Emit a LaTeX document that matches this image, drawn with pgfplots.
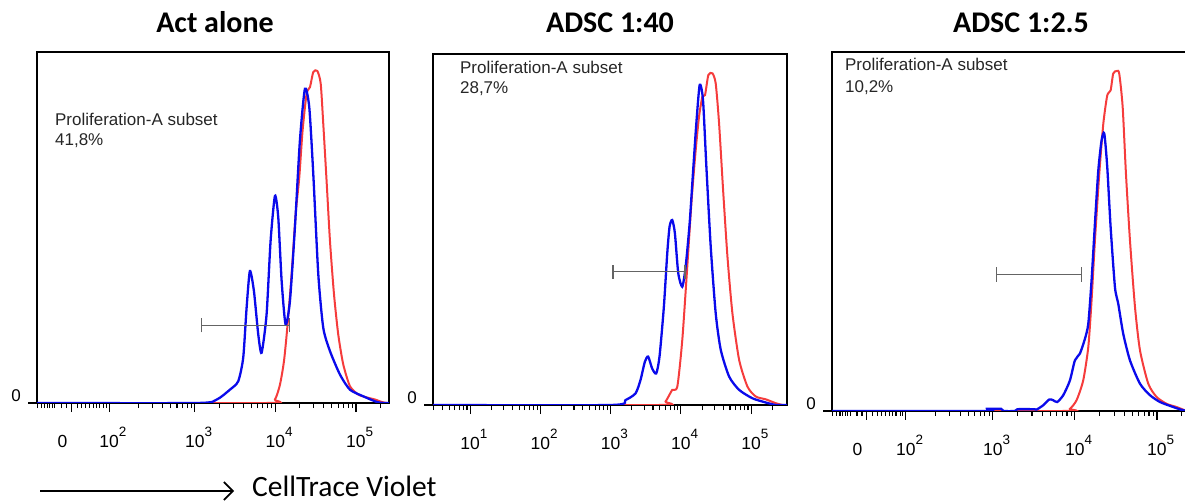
\documentclass[border=0pt]{standalone}
\usepackage{pgfplots}
\pgfplotsset{compat=1.18}
\usepackage{fontspec}
\setmainfont{Liberation Sans}
\newfontfamily\calibri{Carlito}
\usetikzlibrary{arrows.meta}
\definecolor{fblue}{RGB}{10,10,235}
\definecolor{fred}{RGB}{245,60,60}
\definecolor{gatec}{RGB}{100,100,100}
\newcommand{\ex}[1]{\raisebox{10.5pt}{\fontsize{13.5}{13.5}\selectfont #1}}
\newcommand{\dec}[1]{\hphantom{\ex{#1}}10\ex{#1}}
\tikzset{ptext/.style={font=\fontsize{17}{20}\selectfont, anchor=west, text=black!85, inner sep=0pt}}
\pgfplotsset{flow/.style={
  scale only axis, anchor=south west,
  ymin=0, ymax=100,
  axis line style={line width=1.2pt},
  tick style={black, line width=1.1pt},
  tick align=outside,
  xtick pos=bottom, ytick pos=left,
  major tick length=9pt, minor tick length=5pt,
  ytick={0}, yticklabels={0},
  xticklabel style={font=\fontsize{17.5}{17.5}\selectfont, anchor=base, inner sep=0pt, yshift=-35pt},
  yticklabel style={font=\fontsize{17}{17}\selectfont, anchor=base east, inner sep=0pt, xshift=-7pt, yshift=1pt},
  clip=true,
},
bl/.style={fblue, line width=2.3pt, smooth, tension=0.4},
rl/.style={fred, line width=2pt, smooth, tension=0.4},
gl/.style={gatec, line width=1.4pt},
}
\begin{document}
\begin{tikzpicture}[x=1pt,y=1pt]
\path[use as bounding box] (0,0) rectangle (1185,503);
% ---------- panel 1
\begin{axis}[flow, at={(37pt,100pt)}, width=352pt, height=351pt,
  xmin=1.04, xmax=5.41,
  xtick={1.468,1.935,3,4,5},
  xticklabels={0\kern18pt,\dec{2},\dec{3},\dec{4},\dec{5}},
  minor xtick={1.046,1.096,1.137,1.165,1.199,1.232,1.261,1.344,1.406,1.538,1.593,1.646,1.696,1.737,1.779,1.820,1.870,1.903,2.301,2.477,2.602,2.699,2.778,2.845,2.903,2.954,3.301,3.477,3.602,3.699,3.778,3.845,3.903,3.954,4.301,4.477,4.602,4.699,4.778,4.845,4.903,4.954,5.301}]
\addplot[rl] coordinates {(1.04,0)(3.890,0)(3.994,1)(4.056,5.2)(4.106,11.9)(4.147,21.4)(4.201,36.7)(4.251,53.8)(4.296,64.3)(4.337,77.6)(4.387,88.1)(4.429,90)(4.470,94.3)(4.520,94.6)(4.562,91)(4.594,79.5)(4.635,63.3)(4.677,46.2)(4.727,31)(4.780,19.5)(4.842,11)(4.925,4.8)(5.029,2.4)(5.132,1.6)(5.236,1)(5.319,0.3)(5.381,0)(5.41,0)};
\addplot[bl] coordinates {(1.04,0)(3.02,0)(3.269,0.95)(3.435,3.8)(3.538,6.2)(3.600,12.9)(3.642,27.1)(3.683,37.6)(3.733,31.9)(3.787,19.5)(3.828,14.3)(3.890,25.2)(3.940,46.2)(3.994,59.0)(4.035,52.9)(4.077,34.8)(4.126,22.4)(4.180,29.0)(4.242,50)(4.304,74.8)(4.366,89.5)(4.420,84.3)(4.470,65.2)(4.532,36.7)(4.594,21.4)(4.677,14.8)(4.801,8.1)(4.925,3.8)(5.091,1.9)(5.257,0.3)(5.339,0)(5.41,0)};
\addplot[gl] coordinates {(3.083,22.1)(4.172,22.1)};
\addplot[gl] coordinates {(3.083,20.1)(3.083,24.1)};
\addplot[gl] coordinates {(4.172,20.1)(4.172,24.1)};
\node[ptext] at (axis description cs:0.051,0.809) {Proliferation-A subset};
\node[ptext] at (axis description cs:0.051,0.746) {41,8\%};
\end{axis}
% ---------- panel 2
\begin{axis}[flow, at={(433pt,98pt)}, width=354pt, height=351pt,
  xmin=0.47, xmax=5.51,
  xtick={1,2,3,4,5},
  xticklabels={\dec{1},\dec{2},\dec{3},\dec{4},\dec{5}},
  minor xtick={0.477,0.602,0.699,0.778,0.845,0.903,0.954,1.301,1.477,1.602,1.699,1.778,1.845,1.903,1.954,2.301,2.477,2.602,2.699,2.778,2.845,2.903,2.954,3.301,3.477,3.602,3.699,3.778,3.845,3.903,3.954,4.301,4.477,4.602,4.699,4.778,4.845,4.903,4.954,5.301}]
\addplot[rl] coordinates {(0.47,0)(3.686,0)(3.781,1)(3.876,4.3)(3.948,5.2)(4.019,18.5)(4.09,39.4)(4.152,58.4)(4.21,72.6)(4.257,82.1)(4.305,87.8)(4.343,88.3)(4.39,94)(4.448,94.5)(4.495,91.6)(4.543,80.2)(4.6,61.3)(4.662,42.3)(4.733,26.1)(4.829,12.8)(4.948,5.2)(5.067,2.4)(5.21,1.6)(5.352,0.5)(5.447,0)(5.51,0)};
\addplot[bl] coordinates {(0.47,0)(3.0,0)(3.21,1.4)(3.353,3.3)(3.424,7.1)(3.486,12.3)(3.533,13.8)(3.590,10.4)(3.648,9.0)(3.695,13.8)(3.757,28)(3.805,43.2)(3.838,50.8)(3.876,52.7)(3.914,48.9)(3.962,37.5)(4.019,33.7)(4.067,39.4)(4.124,51.8)(4.171,66)(4.219,80.2)(4.267,91.2)(4.314,86.9)(4.362,67.9)(4.424,45.1)(4.495,26.1)(4.567,15.7)(4.686,8.1)(4.829,4.3)(5.019,1.9)(5.21,0.7)(5.352,0)(5.51,0)};
\addplot[gl] coordinates {(3.03,38)(4.057,38)};
\addplot[gl] coordinates {(3.03,36)(3.03,40)};
\addplot[gl] coordinates {(4.057,36)(4.057,40)};
\node[ptext] at (axis description cs:0.076,0.963) {Proliferation-A subset};
\node[ptext] at (axis description cs:0.076,0.900) {28,7\%};
\end{axis}
% ---------- panel 3
\begin{axis}[flow, at={(832pt,92pt)}, width=358.6pt, height=359pt,
  xmin=1.04, xmax=5.41,
  xtick={1.46,1.94,3,4,5},
  xticklabels={0\kern18pt,\dec{2},\dec{3},\dec{4},\dec{5}},
  minor xtick={1.046,1.096,1.137,1.165,1.199,1.232,1.261,1.344,1.406,1.538,1.593,1.646,1.696,1.737,1.779,1.820,1.870,1.903,2.301,2.477,2.602,2.699,2.778,2.845,2.903,2.954,3.301,3.477,3.602,3.699,3.778,3.845,3.903,3.954,4.301,4.477,4.602,4.699,4.778,4.845,4.903,4.954,5.301}]
\addplot[rl] coordinates {(1.04,0)(3.85,0)(3.939,0.6)(4.02,3)(4.101,8.5)(4.163,17.8)(4.203,30.8)(4.244,47.5)(4.297,66.1)(4.346,80)(4.394,87.9)(4.435,89.3)(4.467,94)(4.508,94.7)(4.54,94)(4.582,84.7)(4.622,66.1)(4.671,47.5)(4.732,29)(4.793,16.9)(4.894,7.6)(4.996,3.9)(5.118,2)(5.240,1.1)(5.341,0.2)(5.41,0)};
\addplot[bl] coordinates {(1.04,0)(2.9,0)(2.93,0.6)(3.1,0.6)(3.13,0)(3.27,0)(3.3,0.5)(3.5,0.5)(3.533,0.4)(3.614,1.6)(3.687,3.2)(3.736,3)(3.784,2.5)(3.858,4.4)(3.939,8.5)(4.0,14.1)(4.061,16)(4.122,20.1)(4.163,24.3)(4.203,36.4)(4.244,52.2)(4.285,67)(4.325,75.4)(4.358,77.3)(4.394,68)(4.435,51.3)(4.488,34.5)(4.528,29.9)(4.589,21.5)(4.671,14.1)(4.793,7.6)(4.915,4.4)(5.037,2.5)(5.199,1.1)(5.321,0.2)(5.41,0)};
\addplot[gl] coordinates {(3.045,38)(4.082,38)};
\addplot[gl] coordinates {(3.045,36)(3.045,40)};
\addplot[gl] coordinates {(4.082,36)(4.082,40)};
\node[ptext] at (axis description cs:0.036,0.964) {Proliferation-A subset};
\node[ptext] at (axis description cs:0.036,0.900) {10,2\%};
\end{axis}
% ---------- titles and axis caption
\node[anchor=base, font=\calibri\bfseries\fontsize{30}{30}\selectfont] at (215,470) {Act alone};
\node[anchor=base, font=\calibri\bfseries\fontsize{30}{30}\selectfont] at (610,470) {ADSC 1:40};
\node[anchor=base, font=\calibri\bfseries\fontsize{30}{30}\selectfont] at (1021,470) {ADSC 1:2.5};
\draw[line width=1.6pt, -{Straight Barb[length=9pt,width=18pt,line width=1.6pt]}] (40,12) -- (234,12);
\node[anchor=base west, inner sep=0pt, font=\calibri\fontsize{29.5}{29.5}\selectfont] at (252,7) {CellTrace Violet};
\end{tikzpicture}
\end{document}
